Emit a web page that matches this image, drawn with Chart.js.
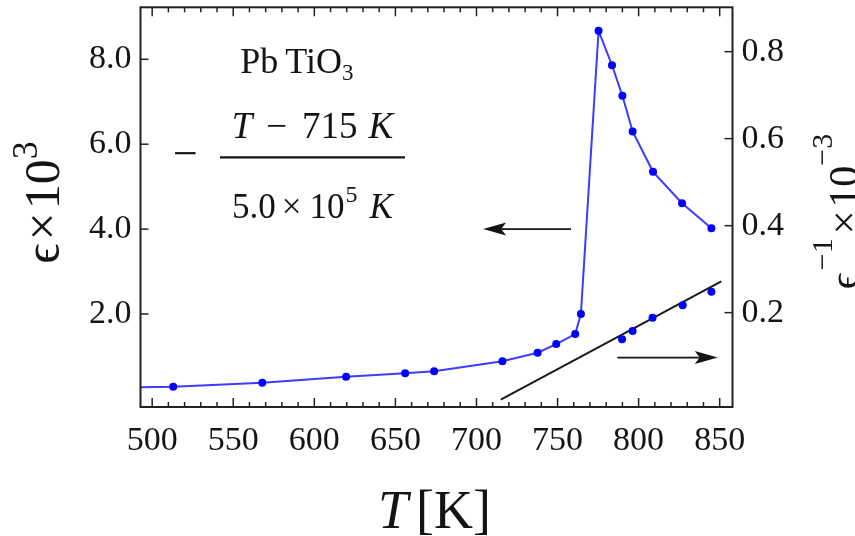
<!DOCTYPE html>
<html>
<head>
<meta charset="utf-8">
<script src="https://cdn.jsdelivr.net/npm/chart.js@4.4.0/dist/chart.umd.min.js"></script>
<style>
  html, body { margin: 0; padding: 0; background: #fff; }
  #wrap { width: 855px; height: 536px; }
</style>
</head>
<body>
<div id="wrap"><canvas id="chart" width="855" height="536"></canvas></div>
<script>
// PbTiO3: dielectric constant vs temperature, inverse on the right axis

// measured epsilon (x10^3), left axis
const tempK = [488, 513.0, 567.9, 619.6, 656.0, 673.9, 716.0, 737.7, 749.2, 760.9, 764.4, 775.3, 783.6, 790.0, 796.3, 808.9, 826.8, 844.9];
const epsK  = [0.275, 0.287, 0.382, 0.523, 0.603, 0.650, 0.886, 1.088, 1.293, 1.529, 2.00, 8.67, 7.86, 7.14, 6.30, 5.35, 4.61, 4.02];

// inverse epsilon (x10^-3) above the transition, right axis
const invTempK = [789.8, 796.3, 808.6, 827.2, 844.9];
const invEps   = [0.139, 0.158, 0.188, 0.217, 0.248];

// Curie-Weiss line (T - T0) / C, shown x10^3
const curieT0 = 715;
const curieC = 5.0e5;
const fitRange = [715, 851];

const xTicks = [500, 550, 600, 650, 700, 750, 800, 850];
const leftTicks = [2, 4, 6, 8];
const rightTicks = [0.2, 0.4, 0.6, 0.8];

const SERIF = "'Liberation Serif', 'Times New Roman', serif";
const INK = '#141414';

Chart.defaults.font.family = SERIF;
Chart.defaults.color = INK;

// frame with inward ticks on all four sides
const framePlugin = {
  id: 'frame',
  afterDatasetsDraw(chart) {
    const { ctx, chartArea: a, scales } = chart;
    ctx.save();
    ctx.strokeStyle = '#222';
    ctx.lineWidth = 1.5;
    const tick = (x1, y1, x2, y2) => { ctx.beginPath(); ctx.moveTo(x1, y1); ctx.lineTo(x2, y2); ctx.stroke(); };

    const minors = [];
    for (let t = 500; t <= 850; t += 10) if (t % 50 !== 0) minors.push(t);
    xTicks.forEach(t => {
      const px = scales.x.getPixelForValue(t);
      tick(px, a.bottom, px, a.bottom - 9);
      tick(px, a.top, px, a.top + 9);
    });
    minors.forEach(t => {
      const px = scales.x.getPixelForValue(t);
      tick(px, a.bottom, px, a.bottom - 5);
      tick(px, a.top, px, a.top + 5);
    });
    leftTicks.forEach(v => {
      const py = scales.y.getPixelForValue(v);
      tick(a.left, py, a.left + 8, py);
    });
    rightTicks.forEach(v => {
      const py = scales.y2.getPixelForValue(v);
      tick(a.right, py, a.right - 8, py);
    });

    ctx.lineWidth = 2;
    ctx.strokeRect(a.left, a.top, a.right - a.left, a.bottom - a.top);
    ctx.restore();
  }
};

function runWidth(ctx, parts) {
  return parts.reduce((w, p) => { ctx.font = p.font; return w + ctx.measureText(p.text).width + (p.gap || 0); }, 0);
}

// draws a row of text pieces centred on cx, baseline at y
function drawRun(ctx, parts, cx, y) {
  let x = cx - runWidth(ctx, parts) / 2;
  ctx.textAlign = 'left';
  ctx.textBaseline = 'alphabetic';
  parts.forEach(p => {
    ctx.font = p.font;
    ctx.fillText(p.text, x, y - (p.rise || 0));
    x += ctx.measureText(p.text).width + (p.gap || 0);
  });
}

function arrow(ctx, x1, x2, y) {
  const dir = Math.sign(x2 - x1);
  ctx.beginPath();
  ctx.moveTo(x1, y);
  ctx.lineTo(x2 - dir * 18, y);
  ctx.stroke();
  ctx.beginPath();
  ctx.moveTo(x2, y);
  ctx.lineTo(x2 - dir * 23, y - 6.5);
  ctx.lineTo(x2 - dir * 18, y);
  ctx.lineTo(x2 - dir * 23, y + 6.5);
  ctx.closePath();
  ctx.fill();
}

// formula, arrows and axis titles
const notesPlugin = {
  id: 'notes',
  afterDraw(chart) {
    const { ctx, scales } = chart;
    const { x, y, y2 } = scales;
    ctx.save();
    ctx.fillStyle = INK;
    ctx.strokeStyle = INK;
    ctx.lineWidth = 1.6;

    // arrows pointing to each axis
    arrow(ctx, x.getPixelForValue(758.3), x.getPixelForValue(704.1), y.getPixelForValue(4.0));
    arrow(ctx, x.getPixelForValue(786.9), x.getPixelForValue(848.8), y2.getPixelForValue(0.0966));

    // fraction anchored at left end of its bar
    const ax = x.getPixelForValue(541.8);
    const ay = y.getPixelForValue(5.69);
    const rm = (s) => s + 'px ' + SERIF;
    const it = (s) => 'italic ' + s + 'px ' + SERIF;

    drawRun(ctx, [
      { text: 'Pb', font: rm(36), gap: 7 },
      { text: 'TiO', font: rm(36) },
      { text: '3', font: rm(23), rise: -7 }
    ], ax + 77, ay - 84.3);

    drawRun(ctx, [
      { text: 'T', font: it(37), gap: 14 },
      { text: '\u2212', font: rm(37), gap: 15 },
      { text: '715', font: rm(37), gap: 11 },
      { text: 'K', font: it(37) }
    ], ax + 92.5, ay - 19.3);

    ctx.lineWidth = 2.2;
    ctx.beginPath();
    ctx.moveTo(ax, ay);
    ctx.lineTo(ax + 185, ay);
    ctx.stroke();

    ctx.textAlign = 'center';
    ctx.font = rm(44);
    ctx.fillText('\u2212', ax - 34.5, ay + 11);

    drawRun(ctx, [
      { text: '5.0', font: rm(35), gap: 6 },
      { text: '\u00d7', font: rm(35), gap: 8 },
      { text: '10', font: rm(35), gap: 1 },
      { text: '5', font: rm(24), rise: 16, gap: 12 },
      { text: 'K', font: it(35) }
    ], ax + 92.5, ay + 60.7);

    // bottom title
    drawRun(ctx, [
      { text: 'T', font: it(54), gap: 8 },
      { text: '[K]', font: rm(54) }
    ], 434.5, 528);

    // left title
    ctx.save();
    ctx.translate(59, 202.5);
    ctx.rotate(-Math.PI / 2);
    drawRun(ctx, [
      { text: '\u03f5', font: rm(50), gap: 3 },
      { text: '\u00d7', font: rm(50), gap: 3 },
      { text: '10', font: rm(50) },
      { text: '3', font: rm(36), rise: 22 }
    ], 0, 0);
    ctx.restore();

    // right title
    ctx.save();
    ctx.translate(858, 211.5);
    ctx.rotate(-Math.PI / 2);
    drawRun(ctx, [
      { text: '\u03f5', font: rm(42), gap: 2 },
      { text: '\u22121', font: rm(30), rise: 26, gap: 4 },
      { text: '\u00d7', font: rm(42), gap: 3 },
      { text: '10', font: rm(42) },
      { text: '\u22123', font: rm(30), rise: 26 }
    ], 0, 0);
    ctx.restore();

    ctx.restore();
  }
};

// keep the plot frame where it is: no label overhang padding
function fixWidth(w) {
  return s => { s.width = w; s.paddingTop = 0; s.paddingBottom = 0; };
}

new Chart(document.getElementById('chart'), {
  type: 'scatter',
  data: {
    datasets: [
      {
        label: 'epsilon',
        data: tempK.map((t, i) => ({ x: t, y: epsK[i] })),
        yAxisID: 'y',
        showLine: true,
        borderColor: '#3c3cff',
        borderWidth: 2,
        pointRadius: 4,
        pointBackgroundColor: '#0000ff',
        pointBorderWidth: 0
      },
      {
        label: 'inverse',
        data: invTempK.map((t, i) => ({ x: t, y: invEps[i] })),
        yAxisID: 'y2',
        showLine: false,
        pointRadius: 4,
        pointBackgroundColor: '#0000ff',
        pointBorderWidth: 0
      },
      {
        label: 'Curie-Weiss',
        data: fitRange.map(t => ({ x: t, y: (t - curieT0) / curieC * 1e3 })),
        yAxisID: 'y2',
        showLine: true,
        borderColor: '#1a1a1a',
        borderWidth: 2,
        pointRadius: 0
      }
    ]
  },
  options: {
    responsive: false,
    animation: false,
    events: [],
    layout: { padding: { top: 7.3 } },
    plugins: { legend: { display: false }, tooltip: { enabled: false } },
    scales: {
      x: {
        type: 'linear',
        position: 'bottom',
        min: 492.8,
        max: 857.9,
        grid: { display: false, drawTicks: false },
        border: { display: false },
        ticks: { font: { size: 34 }, padding: 14, maxRotation: 0, includeBounds: false },
        afterBuildTicks: s => { s.ticks = xTicks.map(v => ({ value: v })); },
        afterFit: s => { s.height = 129; s.paddingLeft = 0; s.paddingRight = 0; }
      },
      y: {
        position: 'left',
        min: -0.19,
        max: 9.225,
        grid: { display: false, drawTicks: false },
        border: { display: false },
        ticks: { font: { size: 34 }, padding: 9, callback: v => v.toFixed(1) },
        afterBuildTicks: s => { s.ticks = leftTicks.map(v => ({ value: v })); },
        afterFit: fixWidth(140.5)
      },
      y2: {
        position: 'right',
        min: -0.017,
        max: 0.902,
        grid: { display: false, drawTicks: false },
        border: { display: false },
        ticks: { font: { size: 34 }, padding: 9, callback: v => v.toFixed(1) },
        afterBuildTicks: s => { s.ticks = rightTicks.map(v => ({ value: v })); },
        afterFit: fixWidth(122.5)
      }
    }
  },
  plugins: [framePlugin, notesPlugin]
});
</script>
</body>
</html>
